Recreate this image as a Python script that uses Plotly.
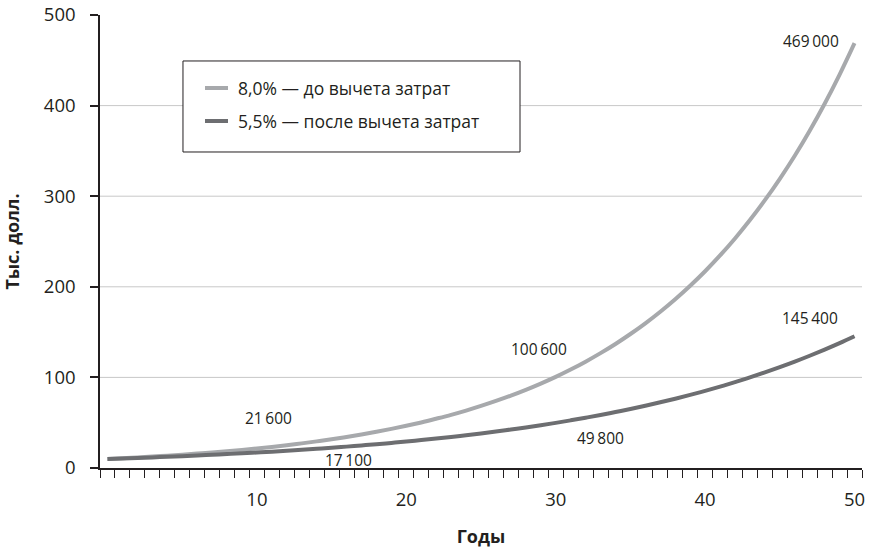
import plotly.graph_objects as go

years = list(range(0, 51))
gross_8 = [10.0, 10.8, 11.7, 12.6, 13.6, 14.7, 15.9, 17.1, 18.5, 20.0,
           21.6, 23.3, 25.2, 27.2, 29.4, 31.7, 34.3, 37.0, 40.0, 43.2,
           46.6, 50.3, 54.4, 58.7, 63.4, 68.5, 74.0, 79.9, 86.3, 93.2,
           100.6, 108.7, 117.4, 126.8, 136.9, 147.9, 159.7, 172.5, 186.3, 201.2,
           217.2, 234.6, 253.4, 273.7, 295.6, 319.2, 344.7, 372.3, 402.1, 434.3,
           469.0]
net_55 = [10.0, 10.6, 11.1, 11.7, 12.4, 13.1, 13.8, 14.6, 15.4, 16.2,
          17.1, 18.0, 19.0, 20.1, 21.2, 22.3, 23.6, 24.9, 26.2, 27.7,
          29.2, 30.8, 32.5, 34.3, 36.2, 38.1, 40.2, 42.5, 44.8, 47.2,
          49.8, 52.6, 55.5, 58.5, 61.8, 65.1, 68.7, 72.5, 76.5, 80.7,
          85.1, 89.8, 94.8, 100.0, 105.5, 111.3, 117.4, 123.9, 130.7, 137.8,
          145.4]
series_names = ["8,0% — до вычета затрат", "5,5% — после вычета затрат"]
series_colors = ["#a7a9ac", "#6d6e71"]

label_texts = ["469\u2009000", "145\u2009400", "100\u2009600", "49\u2009800", "21\u2009600", "17\u2009100"]
label_x = [47.1, 47.0, 28.9, 33.0, 10.8, 16.1]
label_y = [471, 166, 131, 33, 55, 9]

x_tick_vals = [10, 20, 30, 40, 50]
y_tick_vals = [0, 100, 200, 300, 400, 500]
grid_vals = [100, 200, 300, 400]

FONT = "Open Sans"
TXT = "#231f20"

fig = go.Figure()
for name, vals, col in zip(series_names, [gross_8, net_55], series_colors):
    fig.add_trace(go.Scatter(x=years, y=vals, mode="lines", name=name,
                             line=dict(color=col, width=4, shape="spline"),
                             showlegend=False))

shapes = []
for g in grid_vals:
    shapes.append(dict(type="line", xref="paper", yref="y", x0=0, x1=1, y0=g, y1=g,
                       line=dict(color="#c8c8c8", width=1), layer="below"))

# legend box
lx0, lx1, ly0, ly1 = 0.1089, 0.5512, 0.6976, 0.8985
shapes.append(dict(type="rect", xref="paper", yref="paper", x0=lx0, x1=lx1, y0=ly0, y1=ly1,
                   line=dict(color="#231f20", width=1), fillcolor="white", layer="above"))
leg_y = [0.8389, 0.766]
annotations = []
for i, (name, col) in enumerate(zip(series_names, series_colors)):
    shapes.append(dict(type="line", xref="paper", yref="paper", x0=0.1378, x1=0.168,
                       y0=leg_y[i], y1=leg_y[i], line=dict(color=col, width=4), layer="above"))
    annotations.append(dict(text=name, xref="paper", yref="paper", x=0.1785, y=leg_y[i],
                            xanchor="left", yanchor="middle", showarrow=False,
                            font=dict(family=FONT, size=17.5, color=TXT)))

for t, x, y in zip(label_texts, label_x, label_y):
    annotations.append(dict(text=t, x=x, y=y, xref="x", yref="y", showarrow=False,
                            xanchor="center", yanchor="middle",
                            font=dict(family=FONT, size=15.5, color=TXT)))

fig.update_layout(
    width=873, height=552,
    margin=dict(l=100, r=11, t=15, b=84),
    plot_bgcolor="white", paper_bgcolor="white",
    font=dict(family=FONT, color=TXT),
    shapes=shapes, annotations=annotations,
    xaxis=dict(range=[-0.5, 50.5], tickvals=x_tick_vals, ticks="",
               showgrid=False, zeroline=False, showline=True, linecolor="#231f20", linewidth=1.5,
               tickfont=dict(size=18.5, family=FONT, color=TXT),
               ticklabelstandoff=14,
               minor=dict(ticks="outside", tick0=-0.5, dtick=1, ticklen=8,
                          tickcolor="#231f20", tickwidth=1, showgrid=False),
               title=dict(text="<b>Годы</b>", font=dict(size=18, family=FONT, color=TXT), standoff=20),
               automargin=False),
    yaxis=dict(range=[0, 500], tickvals=y_tick_vals, ticks="outside", ticklen=8,
               tickcolor="#231f20", tickwidth=1.5, ticklabelstandoff=11,
               showgrid=False, zeroline=False, showline=True, linecolor="#231f20", linewidth=1.5,
               tickfont=dict(size=18.5, family=FONT, color=TXT),
               title=dict(text="<b>Тыс. долл.</b>", font=dict(size=18, family=FONT, color=TXT), standoff=26),
               automargin=False),
)

fig.write_html("out.html")
